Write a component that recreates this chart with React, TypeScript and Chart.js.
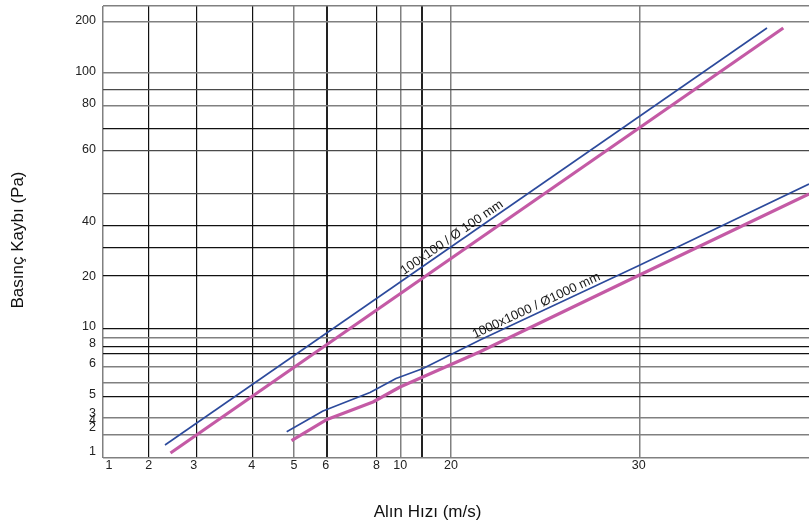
import React, { useEffect, useRef } from 'react';
import { Chart, registerables } from 'chart.js';

Chart.register(...registerables);

// Both axes run 0–100 across the plot: the original chart's grid is irregular,
// so tick labels and grid lines sit at their own positions on that scale.
const xTickValues = [0.85, 6.47, 12.85, 21.06, 27.05, 31.54, 38.74, 42.11, 49.29, 75.88];
const xTickLabels = ['1', '2', '3', '4', '5', '6', '8', '10', '20', '30'];
const xGridValues = [0, 6.47, 13.27, 21.15, 27.01, 31.69, 38.77, 42.11, 45.14, 49.25, 75.96];
const xGridTone = ['g', 'k', 'k', 'k', 'g', 'K', 'k', 'g', 'K', 'g', 'g'];

const yTickValues = [96.68, 85.4, 78.32, 68.14, 52.21, 40.15, 28.98, 25.22, 20.8, 14.05, 9.85, 8.19, 6.64, 1.33];
const yTickLabels = ['200', '100', '80', '60', '40', '20', '10', '8', '6', '5', '3', '4', '2', '1'];
const yGridValues = [100, 96.46, 85.18, 81.42, 77.88, 72.79, 67.92, 58.41, 51.33, 46.46, 40.27, 28.54, 26.66, 24.56, 23.01, 20.13, 16.59, 13.5, 8.85, 5.09, 0];
const yGridTone = ['g', 'g', 'g', 'd', 'g', 'k', 'd', 'd', 'k', 'k', 'k', 'k', 'g', 'k', 'k', 'g', 'g', 'k', 'g', 'g', 'g'];

// Series (x, y in axis units)
const rect100X = [8.78, 94.05];
const rect100Y = [2.88, 95.13];
const round100X = [9.56, 96.36];
const round100Y = [1.11, 95.13];
const rect1000X = [26.02, 31.16, 37.82, 41.5, 45.33, 53.4, 75.92, 100];
const rect1000Y = [5.82, 10.4, 14.49, 17.59, 19.8, 26.11, 42.59, 60.62];
const round1000X = [26.7, 31.73, 38.24, 42.07, 53.4, 75.92, 100];
const round1000Y = [3.87, 8.52, 12.39, 15.71, 23.52, 40.42, 58.41];

const lineLabels = ['100x100 / Ø 100 mm', '1000x1000 / Ø1000 mm'];
const lineLabelSeries = [0, 2];
const lineLabelAnchorX = [50.0, 61.8];

const xTitle = 'Alın Hızı (m/s)';
const yTitle = 'Basınç Kaybı (Pa)';

const FONT = '"Liberation Sans", Arial, Helvetica, sans-serif';
const BLUE = '#2c4a9c';
const MAGENTA = '#c45aa5';

const toneStyle: Record<string, { color: string; width: number }> = {
  k: { color: '#111111', width: 1.2 },
  K: { color: '#222222', width: 2 },
  g: { color: '#808080', width: 1.5 },
  d: { color: '#4a4a4a', width: 1.3 },
};

const zip = (xs: number[], ys: number[]) => xs.map((x, i) => ({ x, y: ys[i] }));
const fixedTicks = (values: number[]) => (scale: any) => {
  scale.ticks = values.map((v) => ({ value: v }));
};
const noPad = (s: any) => {
  s.paddingTop = 0;
  s.paddingBottom = 0;
  s.paddingLeft = 0;
  s.paddingRight = 0;
};

const textPlugin = {
  id: 'chartTexts',
  afterDatasetsDraw(chart: any) {
    const { ctx } = chart;
    const xs = chart.scales.x;
    ctx.save();
    ctx.fillStyle = '#1a1a1a';
    ctx.font = `13px ${FONT}`;
    lineLabelSeries.forEach((dsIndex, i) => {
      const pts = chart.getDatasetMeta(dsIndex).data;
      const ax = xs.getPixelForValue(lineLabelAnchorX[i]);
      let k = 0;
      while (k < pts.length - 2 && pts[k + 1].x < ax) k++;
      const p0 = pts[k];
      const p1 = pts[k + 1];
      const t = (ax - p0.x) / (p1.x - p0.x);
      const ay = p0.y + t * (p1.y - p0.y);
      const ang = Math.atan2(p1.y - p0.y, p1.x - p0.x);
      ctx.save();
      ctx.translate(ax, ay);
      ctx.rotate(ang);
      ctx.textAlign = 'center';
      ctx.textBaseline = 'alphabetic';
      ctx.fillText(lineLabels[i], 0, -3.5);
      ctx.restore();
    });

    ctx.font = `17px ${FONT}`;
    ctx.fillStyle = '#111';
    ctx.textAlign = 'center';
    ctx.textBaseline = 'alphabetic';
    ctx.fillText(xTitle, 427.5, 516.5);
    ctx.save();
    ctx.translate(22.5, 240);
    ctx.rotate(-Math.PI / 2);
    ctx.fillText(yTitle, 0, 0);
    ctx.restore();
    ctx.restore();
  },
};

export default function App() {
  const canvasRef = useRef<HTMLCanvasElement | null>(null);

  useEffect(() => {
    document.body.style.margin = '0';
    const canvas = canvasRef.current;
    if (!canvas) return;
    Chart.defaults.font.family = FONT;

    const gridOpts = (tones: string[]) => ({
      drawTicks: false,
      color: (c: any) => toneStyle[tones[c.index]]?.color ?? '#808080',
      lineWidth: (c: any) => toneStyle[tones[c.index]]?.width ?? 1,
    });

    const chart = new Chart(canvas, {
      type: 'line',
      data: {
        datasets: [
          { data: zip(rect100X, rect100Y), borderColor: BLUE, borderWidth: 1.6 },
          { data: zip(round100X, round100Y), borderColor: MAGENTA, borderWidth: 3.2 },
          { data: zip(rect1000X, rect1000Y), borderColor: BLUE, borderWidth: 1.6 },
          { data: zip(round1000X, round1000Y), borderColor: MAGENTA, borderWidth: 3.2 },
        ].map((d) => ({
          ...d,
          pointRadius: 0,
          fill: false,
          tension: 0,
          borderJoinStyle: 'round' as const,
          xAxisID: 'x',
          yAxisID: 'y',
        })),
      },
      options: {
        responsive: false,
        animation: false,
        devicePixelRatio: 1,
        layout: { padding: { top: 6, left: 0, right: 0, bottom: 0 } },
        plugins: { legend: { display: false }, tooltip: { enabled: false } },
        events: [],
        scales: {
          xGrid: {
            type: 'linear',
            position: 'bottom',
            min: 0,
            max: 100,
            afterBuildTicks: fixedTicks(xGridValues),
            afterFit: (s: any) => { s.height = 0; noPad(s); },
            ticks: { display: false },
            border: { display: false },
            grid: gridOpts(xGridTone),
          },
          x: {
            type: 'linear',
            position: 'bottom',
            min: 0,
            max: 100,
            afterBuildTicks: fixedTicks(xTickValues),
            afterFit: (s: any) => { s.height = 68; noPad(s); },
            grid: { display: false, drawTicks: false },
            border: { display: false },
            ticks: {
              autoSkip: false,
              maxRotation: 0,
              minRotation: 0,
              padding: 0,
              color: '#222',
              font: { size: 12.5 },
              callback: (_v: any, i: number) => xTickLabels[i],
            },
          },
          yGrid: {
            type: 'linear',
            position: 'left',
            min: 0,
            max: 100,
            afterBuildTicks: fixedTicks(yGridValues),
            afterFit: (s: any) => { s.width = 0; noPad(s); },
            ticks: { display: false },
            border: { display: false },
            grid: gridOpts(yGridTone),
          },
          y: {
            type: 'linear',
            position: 'left',
            min: 0,
            max: 100,
            afterBuildTicks: fixedTicks(yTickValues),
            afterFit: (s: any) => { s.width = 103; noPad(s); },
            grid: { display: false, drawTicks: false },
            border: { display: false },
            ticks: {
              autoSkip: false,
              padding: 7,
              color: '#222',
              font: { size: 12.5 },
              callback: (_v: any, i: number) => yTickLabels[i],
            },
          },
        },
      } as any,
      plugins: [textPlugin],
    });
    return () => chart.destroy();
  }, []);

  return (
    <div style={{ width: 809, height: 526, background: '#fff' }}>
      <canvas ref={canvasRef} width={809} height={526} style={{ display: 'block' }} />
    </div>
  );
}
